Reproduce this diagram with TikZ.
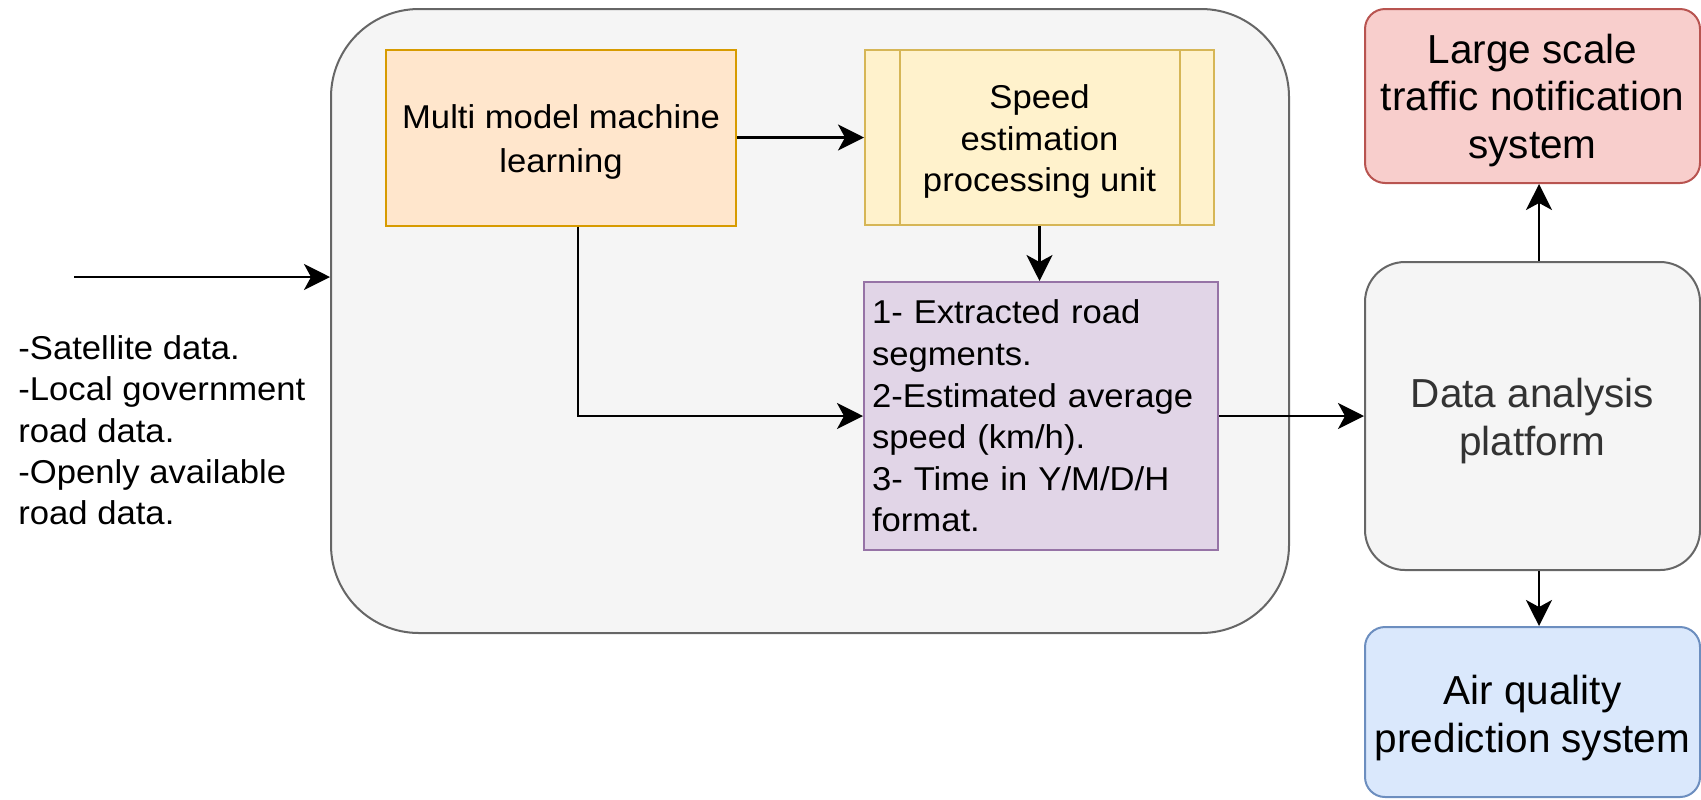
\documentclass[tikz,border=0pt]{standalone}
\usepackage{fontspec}
\setmainfont{Liberation Sans}
\newfontfamily\innerfont{Liberation Sans}[FakeStretch=1.05]
\usetikzlibrary{arrows.meta,calc}
\definecolor{gfill}{HTML}{F5F5F5}
\definecolor{gdraw}{HTML}{666666}
\definecolor{gtext}{HTML}{333333}
\definecolor{ofill}{HTML}{FFE6CC}
\definecolor{odraw}{HTML}{D79B00}
\definecolor{yfill}{HTML}{FFF2CC}
\definecolor{ydraw}{HTML}{D6B656}
\definecolor{pfill}{HTML}{E1D5E7}
\definecolor{pdraw}{HTML}{9673A6}
\definecolor{rfill}{HTML}{F8CECC}
\definecolor{rdraw}{HTML}{B85450}
\definecolor{bfill}{HTML}{DAE8FC}
\definecolor{bdraw}{HTML}{6C8EBF}
\tikzset{
  innertext/.style={font=\innerfont\fontsize{16.5}{#1}\selectfont, align=center, inner sep=0pt},
  innertext/.default=20.9pt,
  outertext/.style={font=\fontsize{20.25}{23.9}\selectfont, align=center, inner sep=0pt},
  box/.style={draw, line width=1pt, inner sep=0pt},
  sidebox/.style={draw, line width=1pt, inner sep=0pt, minimum width=167.5pt},
  arr/.style={-{Stealth[length=13pt,width=13pt,inset=3.5pt]}, line width=1.2pt, black},
}
\begin{document}
\begin{tikzpicture}[x=0.5pt,y=-0.5pt]
\useasboundingbox (0,0) rectangle (1701,799);
\clip (0,0) rectangle (1701,799);

% container
\node[draw=gdraw, fill=gfill, line width=1pt, rounded corners=44pt,
      minimum width=479pt, minimum height=312pt, inner sep=0pt] (cont) at (810,321) {};

% inner boxes
\node[box, fill=ofill, draw=odraw, minimum width=175pt, minimum height=88pt]
  (ml) at (561,137.5) {};
\node[innertext=22pt] (mlt) at ([yshift=-2pt]ml.center) {Multi model machine\\learning};
\node[box, fill=yfill, draw=ydraw, minimum width=174.5pt, minimum height=87.5pt]
  (speed) at (1039.5,137.5) {};
\node[innertext] (speedt) at ([yshift=-2pt]speed.center) {Speed\\estimation\\processing unit};
\draw[draw=ydraw, line width=1pt] ([xshift=18pt]speed.north west) -- ([xshift=18pt]speed.south west);
\draw[draw=ydraw, line width=1pt] ([xshift=-17.5pt]speed.north east) -- ([xshift=-17.5pt]speed.south east);
\node[box, fill=pfill, draw=pdraw, minimum width=177pt, minimum height=134pt,
      text width=169pt, align=left, font=\innerfont\fontsize{16.5}{20.8}\selectfont]
  (out) at (1041,416) {1- Extracted road\\segments.\\2-Estimated average\\speed (km/h).\\3- Time in Y/M/D/H\\format.};

% right column
\node[sidebox, fill=gfill, draw=gdraw, rounded corners=20pt, minimum height=154pt]
  (data) at (1532.5,416) {};
\node[outertext, text=gtext] (datat) at ([yshift=-2.5pt]data.center) {Data analysis\\platform};
\node[sidebox, fill=rfill, draw=rdraw, rounded corners=10pt, minimum height=87pt]
  (red) at (1532.5,96) {};
\node[outertext] (redt) at ([yshift=-2.2pt]red.center) {Large scale\\traffic notification\\system};
\node[sidebox, fill=bfill, draw=bdraw, rounded corners=10pt, minimum height=85pt]
  (blue) at (1532.5,712) {};
\node[outertext] (bluet) at ([yshift=-3.2pt]blue.center) {Air quality\\prediction system};

% input text
\node[anchor=north west, inner sep=0pt, align=left, font=\innerfont\fontsize{16.5}{20.7}\selectfont]
  (src) at (18,335) {-Satellite data.\\-Local government\\road data.\\-Openly available\\road data.};
\coordinate (in) at (74,277);

% connectors
\draw[arr] (in) -- (in -| cont.west);
\draw[arr] (ml.east) -- (speed.west);
\draw[arr] (speed.south) -- (speed.south |- out.north);
\draw[arr] ($(ml.south)+(17,0)$) |- (out.west);
\draw[arr] (out.east) -- (out.east -| data.west);
\draw[arr] ($(data.north)+(6.5,0)$) -- ($(red.south)+(6.5,0)$);
\draw[arr] ($(data.south)+(6.5,0)$) -- ($(blue.north)+(6.5,0)$);
\end{tikzpicture}
\end{document}
